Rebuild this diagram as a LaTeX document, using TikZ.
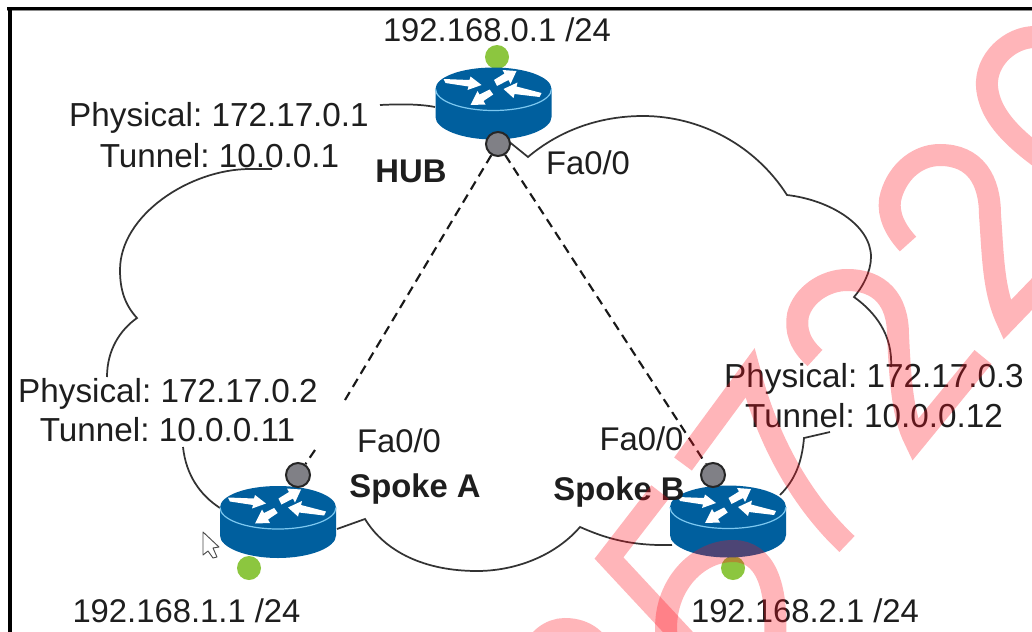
\documentclass[tikz,border=0pt]{standalone}
\usepackage{fontspec}
\setmainfont{Liberation Sans}
\frenchspacing
\definecolor{ciscoblue}{RGB}{0,95,158}
\definecolor{rimblue}{RGB}{125,200,240}
\definecolor{portgreen}{RGB}{140,198,63}
\definecolor{portgrey}{RGB}{128,128,134}
\definecolor{inkdark}{RGB}{30,30,30}
\definecolor{markred}{RGB}{255,10,25}
\tikzset{
  x=0.75pt,y=-0.75pt,
  lbl/.style={inner sep=0pt,anchor=base,text=inkdark,font=\fontsize{24.6}{24.6}\selectfont},
  addrlbl/.style={lbl,font=\fontsize{24.95}{24.95}\selectfont},
  boldlbl/.style={lbl,font=\fontsize{24.6}{24.6}\selectfont\bfseries},
  portdot/.style={circle,draw=black!85,line width=1.5pt,fill=portgrey,minimum size=18pt,inner sep=0pt},
  netdot/.style={circle,fill=portgreen,minimum size=18pt,inner sep=0pt},
  cloudline/.style={draw=black!80,line width=1.3pt,line join=miter},
  tunnelline/.style={draw=black!90,line width=1.6pt,dash pattern=on 7pt off 4.5pt},
  wmstroke/.style={draw=markred,draw opacity=.3,line width=16.5pt,line cap=butt,line join=miter,miter limit=10},
  router/.pic={
    \fill[ciscoblue] (-58,0) -- (-58,28)
      .. controls (-58,40) and (-32,50.5) .. (0,50.5)
      .. controls (32,50.5) and (58,40) .. (58,28) -- (58,0) -- cycle;
    \fill[ciscoblue] (-58,0) .. controls (-58,-12) and (-32,-21.5) .. (0,-21.5)
      .. controls (32,-21.5) and (58,-12) .. (58,0)
      .. controls (58,12) and (32,21.5) .. (0,21.5)
      .. controls (-32,21.5) and (-58,12) .. (-58,0) -- cycle;
    \draw[rimblue,line width=.9pt] (-58,0)
      .. controls (-58,12) and (-32,21.5) .. (0,21.5)
      .. controls (32,21.5) and (58,12) .. (58,0);
    \fill[white] (-50,-10) -- (-24,-9) -- (-23,-12.5) -- (-12,-4) -- (-26,1) -- (-25,-2.5) -- (-48,-6) -- cycle;
    \fill[white] (48,4) -- (23,-2.5) -- (24,-6.5) -- (10,0) -- (20,9) -- (21,5) -- (46,8) -- cycle;
    \fill[white] (0.5,-9) -- (11,-15.5) -- (9,-19) -- (23,-18) -- (17,-5) -- (15,-9) -- (3.5,-3) -- cycle;
    \fill[white] (-3.8,0.5) -- (-14,5.5) -- (-16,2) -- (-23,16) -- (-8,15.5) -- (-10,12) -- (-0.3,5.5) -- cycle;
  }
}
\begin{document}
\begin{tikzpicture}
\useasboundingbox (0,0) rectangle (1032,632);
\clip (0,0) rectangle (1032,632);
\fill[white] (0,0) rectangle (1032,632);
% frame
\fill[black] (7,7) rectangle (1032,9.5);
\fill[black!45] (7,9.5) rectangle (1032,10.3);
\fill[black] (8,7) rectangle (12,632);

% ports
\node[netdot] (hubnet) at (497,57) {};
\node[netdot] (anet) at (249,568) {};
\node[netdot] (bnet) at (733,568) {};

% cloud
\coordinate (c1) at (528,157);
\coordinate (c2) at (787,195);
\coordinate (c3) at (854,297);
\coordinate (c4) at (891,367);
\coordinate (c5) at (830,432);
\coordinate (c6) at (804,438);
\coordinate (c7) at (780,495);
\coordinate (c8) at (672,545);
\coordinate (c9) at (580,527);
\coordinate (c10) at (365,519);
\coordinate (c11) at (337,529);
\coordinate (c12) at (220,508);
\coordinate (c13) at (183,447);
\coordinate (c14) at (107,377);
\coordinate (c15) at (137,318);
\coordinate (c16) at (272,169);
\coordinate (c17) at (380,105);
\coordinate (c18) at (435,107);
\coordinate (c19) at (507,140);
\path[cloudline] (c19) -- (c1)
  .. controls (560,130) and (600,116) .. (643,116)
  .. controls (700,116) and (755,145) .. (c2)
  .. controls (830,200) and (871,225) .. (871,257)
  .. controls (871,272) and (862,288) .. (c3)
  .. controls (875,312) and (893,335) .. (c4);
\path[cloudline] (c5) -- (c6) .. controls (802,462) and (795,480) .. (c7);
\path[cloudline] (c8) .. controls (630,546) and (605,538) .. (c9)
  .. controls (555,556) and (515,571) .. (477,571)
  .. controls (425,571) and (385,552) .. (c10)
  -- (c11);
\path[cloudline] (c12) .. controls (200,495) and (186,475) .. (c13);
\path[cloudline] (c14) .. controls (107,350) and (120,330) .. (c15)
  .. controls (125,305) and (120,290) .. (120,270)
  .. controls (120,215) and (190,169) .. (250,169) -- (c16);
\path[cloudline] (c17) .. controls (400,104) and (420,104) .. (c18);

% routers
\pic (hubrouter) at (493.5,89) {router};
\pic (arouter) at (278,507.5) {router};
\pic (brouter) at (728,507) {router};

% tunnels
\node[portdot] (hubport) at (498,144) {};
\node[portdot] (aport) at (298,475) {};
\node[portdot] (bport) at (713,475) {};
\coordinate (tunnelAend) at (345,400);
\coordinate (tunnelAstart) at (315,450);
\draw[tunnelline] (hubport) -- (tunnelAend);
\draw[tunnelline] (tunnelAstart) -- (aport);
\draw[tunnelline] (hubport) -- (bport);

% labels
\node[lbl] (hubip) at (497,41) {192.168.0.1 /24};
\node[lbl] (aip) at (186.5,622) {192.168.1.1 /24};
\node[lbl] (bip) at (805,622) {192.168.2.1 /24};
\node[addrlbl] (hubphys) at (219,126) {Physical: 172.17.0.1};
\node[addrlbl] (hubtun) at (219.5,167) {Tunnel: 10.0.0.1};
\node[addrlbl] (aphys) at (168,402) {Physical: 172.17.0.2};
\node[addrlbl] (atun) at (167.5,441) {Tunnel: 10.0.0.11};
\node[addrlbl] (bphys) at (874,387) {Physical: 172.17.0.3};
\node[addrlbl] (btun) at (874,427) {Tunnel: 10.0.0.12};
\node[boldlbl] (hubname) at (411,182) {HUB};
\node[boldlbl] (aname) at (415,497) {Spoke A};
\node[boldlbl] (bname) at (619,500) {Spoke B};
\node[lbl] (hubfa) at (588,174) {Fa0/0};
\node[lbl] (afa) at (399,452) {Fa0/0};
\node[lbl] (bfa) at (641.5,450) {Fa0/0};

% mouse pointer
\draw[fill=white,draw=black!70,line width=.7pt,line join=round]
  (203,532) -- (203,555) -- (208,551) -- (213,558) -- (217,557) -- (213,548) -- (219,547) -- cycle;

% watermark
\path[wmstroke] (683,464) -- (750,373) .. controls (765,430) and (795,495) .. (847,544);
\path[wmstroke] (660,492) -- (609,558) -- (690,645);
\path[wmstroke] (667,640) .. controls (660,590) and (695,551) .. (733,551)
  .. controls (765,551) and (778,585) .. (775,640);
\path[wmstroke] (530,660) .. controls (535,640) and (550,629) .. (565,629)
  .. controls (585,629) and (600,640) .. (605,660);
\path[wmstroke] (815,358) .. controls (800,345) and (795,330) .. (798,315)
  .. controls (803,295) and (825,280) .. (847,280)
  .. controls (880,280) and (898,300) .. (898,335)
  .. controls (900,375) and (902,415) .. (915,440) -- (983,357);
\path[wmstroke] (908,244) .. controls (895,230) and (888,215) .. (890,200)
  .. controls (895,175) and (915,155) .. (940,155)
  .. controls (975,155) and (990,180) .. (990,215)
  .. controls (993,255) and (993,290) .. (1007,320) -- (1060,265);
\path[wmstroke] (1065,175) .. controls (1020,145) and (990,120) .. (987,87)
  .. controls (985,60) and (1010,37) .. (1035,37) -- (1065,37);
\end{tikzpicture}
\end{document}
